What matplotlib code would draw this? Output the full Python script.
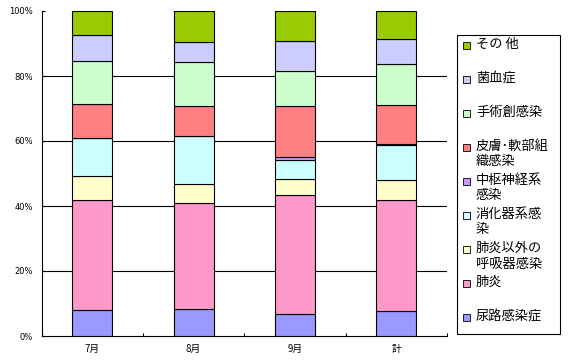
import numpy as np
import matplotlib
matplotlib.use('Agg')
import matplotlib.pyplot as plt
from matplotlib.patches import Rectangle

plt.rcParams['font.family'] = ['Noto Sans CJK JP', 'DejaVu Sans']

# data (percent of each month), stacked bottom -> top
months = ['7月', '8月', '9月', '計']
categories = ['尿路感染症', '肺炎', '肺炎以外の\n呼吸器感染', '消化器系感\n染', '中枢神経系\n感染',
              '皮膚･軟部組\n織感染', '手術創感染', '菌血症', 'その 他']
uti = [7.9, 8.2, 6.7, 7.6]
pneumonia = [34.1, 32.6, 36.6, 34.2]
other_resp = [7.1, 5.9, 4.9, 6.1]
digestive = [11.7, 14.7, 5.9, 10.8]
cns = [0.0, 0.0, 0.9, 0.3]
skin = [10.7, 9.3, 15.7, 12.0]
surgical = [13.2, 13.5, 10.7, 12.6]
bacteremia = [7.8, 6.4, 9.3, 7.7]
others = [7.5, 9.4, 9.3, 8.7]
series = [uti, pneumonia, other_resp, digestive, cns, skin, surgical, bacteremia, others]
colors = ['#9999FF', '#FF99CC', '#FFFFCC', '#CCFFFF', '#CC99FF',
          '#FF8080', '#CCFFCC', '#CCCCFF', '#99CC00']

W, H = 572, 362
fig = plt.figure(figsize=(W / 100, H / 100), dpi=100)
ax = fig.add_axes([41.5 / W, 26 / H, 405.5 / W, 325 / H])

x = np.arange(len(months))
bottom = np.zeros(len(months))
for vals, c in zip(series, colors):
    vals = np.array(vals)
    ax.bar(x, vals, 0.395, bottom=bottom, color=c, edgecolor='black', linewidth=0.8, zorder=3)
    bottom += vals

ax.set_xlim(-0.5, len(months) - 0.5)
ax.set_ylim(0, 100)
ax.set_yticks([0, 20, 40, 60, 80, 100])
ax.set_yticklabels(['0%', '20%', '40%', '60%', '80%', '100%'], family='DejaVu Sans', fontsize=6)
for yv in [20, 40, 60, 80]:
    ax.axhline(yv, color='black', linewidth=0.8, zorder=1)
ax.set_xticks(x)
ax.set_xticklabels(months, fontsize=7)
ax.set_xticks(np.arange(-0.5, len(months)), minor=True)
ax.tick_params(axis='x', which='major', length=0, pad=6)
ax.tick_params(axis='x', which='minor', direction='in', length=2, width=0.8)
ax.tick_params(axis='y', direction='in', length=2, width=0.8, pad=6)
for s in ['top', 'right']:
    ax.spines[s].set_visible(False)
for s in ['left', 'bottom']:
    ax.spines[s].set_linewidth(0.8)

# legend drawn in pixel coordinates
lg = fig.add_axes([0, 0, 1, 1])
lg.set_xlim(0, W)
lg.set_ylim(H, 0)
lg.axis('off')
lg.add_patch(Rectangle((456.7, 34.7), 103.3, 299.3, facecolor='white', edgecolor='black', linewidth=0.8))
for i, (lab, c) in enumerate(zip(categories[::-1], colors[::-1])):
    yc = 45 + i * 34
    lg.add_patch(Rectangle((462.5, yc - 3.5), 7, 7, facecolor=c, edgecolor='black', linewidth=0.6))
    lg.text(476, yc - 7, lab, fontsize=9.5, va='top', ha='left', linespacing=1.25)

fig.savefig('out.png', dpi=100)
